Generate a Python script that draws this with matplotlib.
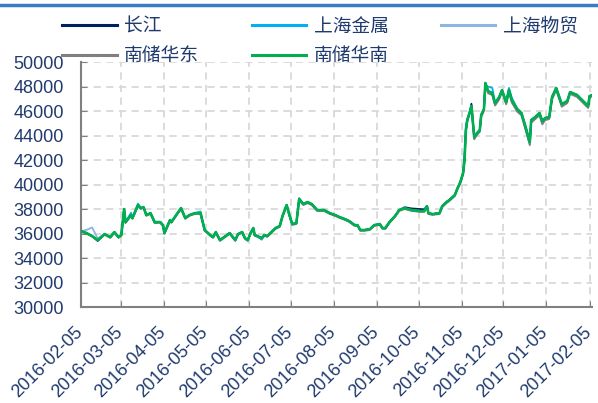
import matplotlib
matplotlib.use("Agg")
import matplotlib.pyplot as plt
import matplotlib.dates as mdates
import matplotlib.transforms as mtransforms
from matplotlib.lines import Line2D
import pandas as pd

plt.rcParams['font.family'] = ['Liberation Sans', 'DejaVu Sans']

# dates (roughly every few trading days)
dates = [
    "2016-02-05", "2016-02-09", "2016-02-13", "2016-02-17", "2016-02-22", "2016-02-26", "2016-02-29", "2016-03-03", "2016-03-05", "2016-03-07",
    "2016-03-08", "2016-03-12", "2016-03-13", "2016-03-17", "2016-03-19", "2016-03-21", "2016-03-23", "2016-03-26", "2016-03-29", "2016-04-02",
    "2016-04-04", "2016-04-05", "2016-04-09", "2016-04-10", "2016-04-15", "2016-04-17", "2016-04-20", "2016-04-23", "2016-04-27", "2016-05-01",
    "2016-05-04", "2016-05-08", "2016-05-10", "2016-05-12", "2016-05-15", "2016-05-19", "2016-05-22", "2016-05-26", "2016-05-28", "2016-05-31",
    "2016-06-02", "2016-06-04", "2016-06-06", "2016-06-08", "2016-06-09", "2016-06-11", "2016-06-14", "2016-06-16", "2016-06-18", "2016-06-21",
    "2016-06-24", "2016-06-27", "2016-06-29", "2016-07-02", "2016-07-04", "2016-07-06", "2016-07-09", "2016-07-11", "2016-07-14", "2016-07-17",
    "2016-07-20", "2016-07-24", "2016-07-29", "2016-08-02", "2016-08-06", "2016-08-09", "2016-08-13", "2016-08-16", "2016-08-20", "2016-08-22",
    "2016-08-24", "2016-08-27", "2016-08-31", "2016-09-03", "2016-09-07", "2016-09-09", "2016-09-11", "2016-09-14", "2016-09-18", "2016-09-21",
    "2016-09-25", "2016-09-30", "2016-10-06", "2016-10-09", "2016-10-11", "2016-10-12", "2016-10-15", "2016-10-20", "2016-10-22", "2016-10-25",
    "2016-10-27", "2016-10-31", "2016-11-02", "2016-11-04", "2016-11-06", "2016-11-07", "2016-11-08", "2016-11-09", "2016-11-11", "2016-11-12",
    "2016-11-14", "2016-11-16", "2016-11-18", "2016-11-19", "2016-11-21", "2016-11-22", "2016-11-24", "2016-11-27", "2016-11-29", "2016-12-02",
    "2016-12-04", "2016-12-07", "2016-12-09", "2016-12-11", "2016-12-15", "2016-12-18", "2016-12-21", "2016-12-24", "2016-12-25", "2016-12-27",
    "2016-12-31", "2017-01-02", "2017-01-04", "2017-01-07", "2017-01-09", "2017-01-12", "2017-01-16", "2017-01-20", "2017-01-22", "2017-01-27",
    "2017-02-04", "2017-02-05", "2017-02-07",
]

changjiang = [
    36200, 36040, 35800, 35400, 35960, 35710, 36120, 35710, 35880, 38000,
    36940, 37510, 37270, 38330, 38080, 38160, 37510, 37670, 36940, 36940,
    36690, 36040, 37100, 36940, 37760, 38080, 37270, 37510, 37670, 37670,
    36290, 35880, 35710, 36120, 35470, 35800, 36040, 35470, 35960, 36120,
    35630, 35470, 36040, 36450, 35880, 35800, 35630, 35880, 35800, 36120,
    36450, 36610, 37430, 38330, 37510, 36780, 36860, 38820, 38410, 38570,
    38410, 37920, 37920, 37670, 37510, 37350, 37180, 37020, 36690, 36690,
    36290, 36290, 36370, 36690, 36780, 36450, 36450, 36940, 37430, 37920,
    38150, 38050, 38000, 37980, 38240, 37670, 37590, 37670, 38240, 38570,
    38730, 39140, 39710, 40200, 40940, 42000, 44450, 45270, 46000, 46600,
    43880, 44200, 44450, 45670, 46160, 48290, 47630, 47470, 46650, 47140,
    47710, 46730, 47710, 46900, 46160, 45840, 44690, 43470, 45270, 45430,
    45840, 45180, 45430, 45510, 47140, 47880, 46570, 46820, 47550, 47310,
    46410, 47220, 47310,
]

shanghai_jinshu = [
    36200, 36040, 35800, 35470, 35960, 35710, 36120, 35710, 35880, 38000,
    36940, 37700, 37270, 38450, 38080, 38160, 37510, 37670, 36940, 36940,
    36690, 36040, 37100, 36940, 37760, 38080, 37270, 37510, 37670, 37800,
    36290, 35880, 35710, 36120, 35470, 35800, 36040, 35470, 35960, 36120,
    35630, 35470, 36040, 36450, 35880, 35800, 35500, 35880, 35800, 36120,
    36450, 36610, 37430, 38330, 37510, 36780, 36860, 38900, 38410, 38570,
    38410, 37920, 37920, 37670, 37510, 37350, 37180, 37020, 36690, 36690,
    36290, 36290, 36370, 36690, 36780, 36450, 36450, 36940, 37430, 37920,
    38080, 37920, 37840, 37840, 38240, 37670, 37590, 37670, 38240, 38570,
    38730, 39140, 39710, 40200, 40940, 42400, 44800, 45270, 46000, 46410,
    43880, 44200, 44450, 45670, 46160, 48100, 48000, 47900, 46650, 47140,
    47710, 46730, 47900, 47100, 46160, 45840, 44690, 43470, 45270, 45430,
    45840, 45180, 45430, 45510, 47140, 47880, 46570, 46820, 47550, 47310,
    46410, 47220, 47310,
]

shanghai_wumao = [
    36200, 36300, 36500, 35600, 35960, 35710, 36120, 35710, 35880, 38000,
    36940, 37510, 37270, 38330, 38080, 38160, 37510, 37670, 36940, 36940,
    36690, 36040, 37100, 36940, 37760, 38080, 37270, 37510, 37670, 37670,
    36290, 35880, 35710, 36120, 35470, 35800, 36040, 35470, 35960, 36120,
    35630, 35470, 36040, 36450, 35880, 35800, 35630, 35880, 35800, 36120,
    36450, 36610, 37430, 38330, 37510, 36780, 36860, 38820, 38410, 38570,
    38410, 37920, 37920, 37670, 37510, 37350, 37180, 37020, 36690, 36690,
    36290, 36290, 36370, 36690, 36780, 36450, 36450, 36940, 37430, 37920,
    38080, 37920, 37840, 37840, 38240, 37670, 37590, 37670, 38240, 38570,
    38730, 39140, 39710, 40200, 40940, 42000, 44450, 45270, 46000, 46410,
    43750, 44100, 44350, 45670, 46160, 48290, 47630, 47470, 46500, 47140,
    47710, 46600, 47710, 46900, 46000, 45700, 44500, 43200, 45100, 45300,
    45700, 44900, 45300, 45510, 47000, 47880, 46400, 46820, 47550, 47310,
    46300, 47220, 47310,
]

nanchu_huadong = [
    36150, 36000, 35750, 35420, 35900, 35650, 36050, 35650, 35820, 37900,
    36850, 37450, 37200, 38250, 38000, 38100, 37450, 37600, 36850, 36880,
    36600, 35980, 37000, 36880, 37700, 38000, 37200, 37450, 37600, 37600,
    36220, 35820, 35650, 36050, 35400, 35730, 35980, 35400, 35900, 36050,
    35560, 35400, 35970, 36380, 35820, 35730, 35560, 35820, 35730, 36050,
    36380, 36540, 37350, 38250, 37440, 36700, 36780, 38700, 38330, 38480,
    38330, 37840, 37840, 37600, 37440, 37280, 37110, 36950, 36620, 36620,
    36220, 36220, 36300, 36620, 36710, 36380, 36380, 36870, 37360, 37850,
    38000, 37850, 37770, 37770, 38150, 37600, 37520, 37600, 38160, 38480,
    38650, 39060, 39620, 40100, 40850, 41900, 44300, 45150, 45850, 46250,
    43700, 44050, 44300, 45500, 46000, 48150, 47450, 47300, 46450, 46950,
    47550, 46550, 47550, 46700, 45950, 45650, 44450, 43250, 45050, 45250,
    45650, 44950, 45250, 45350, 46950, 47700, 46350, 46650, 47400, 47150,
    46250, 47100, 47200,
]

nanchu_huanan = [
    36200, 36040, 35800, 35470, 35960, 35710, 36120, 35710, 35880, 38000,
    36940, 37510, 37270, 38330, 38080, 38160, 37510, 37670, 36940, 36940,
    36690, 36040, 37100, 36940, 37760, 38080, 37270, 37510, 37670, 37670,
    36290, 35880, 35710, 36120, 35470, 35800, 36040, 35470, 35960, 36120,
    35630, 35470, 36040, 36450, 35880, 35800, 35630, 35880, 35800, 36120,
    36450, 36610, 37430, 38330, 37510, 36780, 36860, 38820, 38410, 38570,
    38410, 37920, 37920, 37670, 37510, 37350, 37180, 37020, 36690, 36690,
    36290, 36290, 36370, 36690, 36780, 36450, 36450, 36940, 37430, 37920,
    38080, 37920, 37840, 37840, 38240, 37670, 37590, 37670, 38240, 38570,
    38730, 39140, 39710, 40200, 40940, 42000, 44450, 45270, 46000, 46410,
    43880, 44200, 44450, 45670, 46160, 48290, 47630, 47470, 46650, 47140,
    47710, 46730, 47710, 46900, 46160, 45840, 44690, 43470, 45270, 45430,
    45840, 45180, 45430, 45510, 47140, 47880, 46570, 46820, 47550, 47310,
    46410, 47220, 47310,
]

tick_dates = ["2016-02-05", "2016-03-05", "2016-04-05", "2016-05-05", "2016-06-05",
              "2016-07-05", "2016-08-05", "2016-09-05", "2016-10-05", "2016-11-05",
              "2016-12-05", "2017-01-05", "2017-02-05"]
y_ticks = list(range(30000, 50001, 2000))

x = pd.to_datetime(dates)
label_color = '#1F3A6E'

fig = plt.figure(figsize=(5.98, 4.03), dpi=100)
ax = fig.add_axes([0.1355, 0.238, 0.855, 0.608])

# draw order: green on top
l_wm, = ax.plot(x, shanghai_wumao, color='#8EB4E3', lw=1.3, zorder=2)
l_hd, = ax.plot(x, nanchu_huadong, color='#7F7F7F', lw=1.3, zorder=3)
l_js, = ax.plot(x, shanghai_jinshu, color='#00B0F0', lw=1.3, zorder=4)
l_cj, = ax.plot(x, changjiang, color='#002060', lw=1.3, zorder=5)
l_hn, = ax.plot(x, nanchu_huanan, color='#00B050', lw=1.9, zorder=6)

ax.set_ylim(30000, 50000)
ax.set_yticks(y_ticks)
ax.set_yticklabels([str(v) for v in y_ticks])
ax.set_xlim(pd.Timestamp("2016-02-05"), pd.Timestamp("2017-02-07"))
ax.set_xticks(pd.to_datetime(tick_dates))
ax.xaxis.set_major_formatter(mdates.DateFormatter('%Y-%m-%d'))

ax.grid(True, color='#D9D9D9', ls=(0, (4, 3)), lw=1.3)
ax.set_axisbelow(True)
for s in ['top', 'right']:
    ax.spines[s].set_visible(False)
for s in ['left', 'bottom']:
    ax.spines[s].set_color('#808080')
    ax.spines[s].set_linewidth(1.5)

ax.tick_params(axis='both', direction='in', length=4, color='#808080',
               labelsize=13, labelcolor=label_color)
ax.tick_params(axis='y', pad=12.5)
ax.tick_params(axis='x', pad=12)
shift = mtransforms.ScaledTranslation(-7 / 100, 0, fig.dpi_scale_trans)
for lab in ax.get_xticklabels():
    lab.set_rotation(45)
    lab.set_ha('right')
    lab.set_rotation_mode('anchor')
    lab.set_transform(lab.get_transform() + shift)

# legend: order gives rows 长江/上海金属/上海物贸 and 南储华东/南储华南
handles = [l_cj, l_hd, l_js, l_hn, l_wm]
labels = ['长江', '南储华东', '上海金属', '南储华南', '上海物贸']
leg = fig.legend(handles, labels, ncol=3, loc='upper left', bbox_to_anchor=(0.0886, 0.984),
                 frameon=False, borderpad=0, handlelength=2.9, columnspacing=2.8,
                 handletextpad=0.4, labelspacing=0.45,
                 prop={'family': ['Noto Sans CJK SC', 'DejaVu Sans'], 'size': 13.5})
for t in leg.get_texts():
    t.set_color(label_color)
for h in leg.legend_handles:
    h.set_linewidth(2.2)

fig.add_artist(Line2D([0, 1], [0.988, 0.988], color='#3A7CC2', lw=2.5,
                      transform=fig.transFigure))

fig.savefig('out.png', dpi=100)
